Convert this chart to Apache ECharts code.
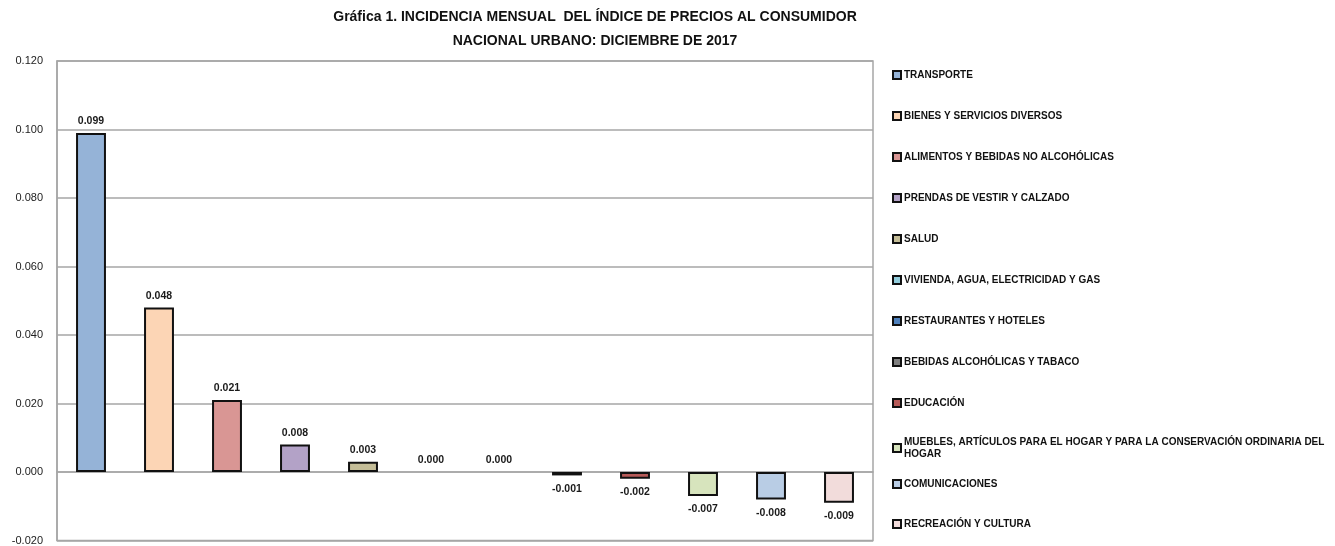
<!DOCTYPE html>
<html>
<head>
<meta charset="utf-8">
<script src="https://cdn.jsdelivr.net/npm/echarts@6/dist/echarts.min.js"></script>
<style>html,body{margin:0;padding:0;background:#fff;}#c{width:1335px;height:546px;}</style>
</head>
<body>
<div id="c"></div>
<script>
const categories = [
  'TRANSPORTE',
  'BIENES Y SERVICIOS DIVERSOS',
  'ALIMENTOS Y BEBIDAS NO ALCOHÓLICAS',
  'PRENDAS DE VESTIR Y CALZADO',
  'SALUD',
  'VIVIENDA, AGUA, ELECTRICIDAD Y GAS',
  'RESTAURANTES Y HOTELES',
  'BEBIDAS ALCOHÓLICAS Y TABACO',
  'EDUCACIÓN',
  'MUEBLES, ARTÍCULOS PARA EL HOGAR Y PARA LA CONSERVACIÓN ORDINARIA DEL HOGAR',
  'COMUNICACIONES',
  'RECREACIÓN Y CULTURA'
];
const values = [0.099, 0.048, 0.021, 0.008, 0.003, 0.000, 0.000, -0.001, -0.002, -0.007, -0.008, -0.009];
const colors = ['#95B3D7', '#FCD5B5', '#D99694', '#B3A2C7', '#C4BD97', '#92CDDC', '#4F81BD', '#7F7F7F', '#B65A58', '#D7E4BD', '#B9CDE5', '#F2DCDB'];
const yTicks = [-0.02, 0, 0.02, 0.04, 0.06, 0.08, 0.10, 0.12];
const titleText = 'Gráfica 1. INCIDENCIA MENSUAL  DEL ÍNDICE DE PRECIOS AL CONSUMIDOR\nNACIONAL URBANO: DICIEMBRE DE 2017';

const FONT = '"Liberation Sans Narrow", "Liberation Sans", Arial, sans-serif';

const series = categories.map((name, i) => ({
  name: name,
  type: 'bar',
  stack: 'all',
  barWidth: '44%',
  data: categories.map((c, j) => j === i ? values[i] : '-'),
  itemStyle: { color: colors[i], borderColor: '#111', borderWidth: values[i] === 0 ? 0 : 2 },
  label: {
    show: true,
    position: values[i] >= 0 ? 'top' : 'bottom',
    distance: values[i] >= 0 ? 6 : 8,
    formatter: p => Number(p.value).toFixed(3),
    fontFamily: FONT,
    fontWeight: 'bold',
    fontSize: 10.5,
    color: '#1a1a1a'
  }
}));

const legendBase = {
  orient: 'vertical',
  left: 887,
  itemWidth: 8,
  itemHeight: 8,
  icon: 'rect',
  itemStyle: { borderColor: '#111', borderWidth: 2 },
  textStyle: { fontFamily: FONT, fontWeight: 'bold', fontSize: 10, color: '#111', lineHeight: 12, padding: [0, 0, 0, -2] },
  selectedMode: false
};

const chart = echarts.init(document.getElementById('c'));
chart.setOption({
  animation: false,
  backgroundColor: '#fff',
  title: {
    text: titleText,
    left: 590,
    textAlign: 'center',
    top: 0,
    textStyle: { fontFamily: FONT, fontWeight: 'bold', fontSize: 14, color: '#111', lineHeight: 24 }
  },
  grid: { left: 57, right: 462, top: 61, bottom: 5, show: true, borderColor: '#A6A6A6', borderWidth: 1.5 },
  legend: [
    Object.assign({}, legendBase, { top: 64, itemGap: 29, data: categories.slice(0, 9) }),
    Object.assign({}, legendBase, {
      top: 431, data: [categories[9]],
      formatter: n => { const k = n.lastIndexOf(' '); return n.slice(0, k) + '\n' + n.slice(k + 1); }
    }),
    Object.assign({}, legendBase, { top: 473, itemGap: 28, data: categories.slice(10) })
  ],
  xAxis: {
    type: 'category',
    data: categories,
    axisLine: { show: true, onZero: true, lineStyle: { color: '#A6A6A6', width: 1.5 } },
    axisTick: { show: false },
    axisLabel: { show: false }
  },
  yAxis: {
    type: 'value',
    min: yTicks[0],
    max: yTicks[yTicks.length - 1],
    interval: 0.02,
    axisLine: { show: true, lineStyle: { color: '#A6A6A6', width: 1.5 } },
    axisTick: { show: false },
    splitLine: { show: true, lineStyle: { color: '#A6A6A6', width: 1.5 } },
    axisLabel: {
      margin: 14,
      formatter: v => v.toFixed(3),
      fontFamily: FONT,
      fontSize: 11,
      color: '#222'
    }
  },
  series: series
});
</script>
</body>
</html>
